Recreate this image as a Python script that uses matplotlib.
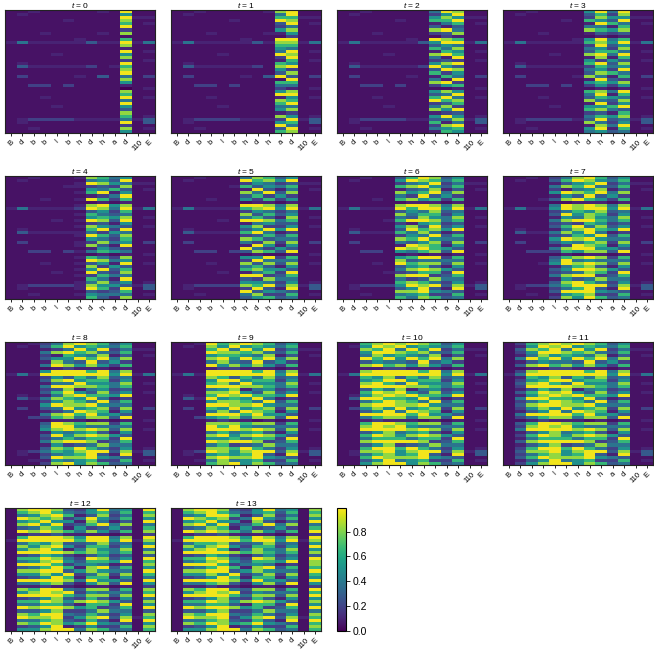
import numpy as np
import matplotlib
matplotlib.use("Agg")
import matplotlib.pyplot as plt

plt.rcParams['font.family'] = ['Liberation Sans', 'DejaVu Sans']
plt.rcParams['mathtext.fontset'] = 'custom'
plt.rcParams['mathtext.it'] = 'Liberation Sans:italic'
plt.rcParams['mathtext.rm'] = 'Liberation Sans'

tokens = ["B", "d", "b", "b", "l", "b", "h", "d", "h", "a", "d", "110", "E"]
timesteps = list(range(14))
# digit code -> value
levels = [0.0, 0.05, 0.1, 0.19, 0.28, 0.38, 0.5, 0.66, 0.83, 0.97]

t0 = ["1121111121911", "1211111111611", "1111111111922", "1111121111811", "1111111111712",
      "1111111111911", "1111111111311", "1112111121811", "1111111111111", "1111112111711",
      "2522222422925", "1111111111811", "1111111111211", "1111111111912", "1111211111611",
      "1111111111811", "1111111111312", "1211111111911", "1422222312711", "1111111111811",
      "1111111111911", "1311112141513", "1111111111811", "1111111111611", "1133131111211",
      "1111111111012", "1111111111811", "1111111111711", "1112111111912", "1111111111511",
      "1111111111911", "1111211111611", "1111111111411", "1111111111811", "1111111111712",
      "1233332222524", "1211111111914", "1111111111311", "1121111111812", "1111111111611"]
t1 = ["1121111128911", "1211111115911", "1111111117722", "1111121119811", "1111111114912",
      "1111111113511", "1111111116811", "1112111122611", "1111111111311", "1111112119911",
      "2522222428825", "1111111117711", "1111111116511", "1111111115912", "1111211119811",
      "1111111113911", "1111111112712", "1211111117611", "1422222318911", "1111111116311",
      "1111111114811", "1311112149413", "1111111111911", "1111111117711", "1133131115511",
      "1111111113212", "1111111116811", "1111111119911", "1112111112612", "1111111118711",
      "1111111117911", "1111211115511", "1111111116811", "1111111112311", "1111111118612",
      "1233332223924", "1211111116714", "1111111119511", "1121111114912", "1111111117811"]
t2 = ["1121111159811", "1211111136911", "1111111168622", "1111121177911", "1111111125712",
      "1111111142411", "1111111189511", "1112111134811", "1111111113211", "1111112198711",
      "2522222469925", "1111111146511", "1111111175811", "1111111127612", "1111211189711",
      "1111111152911", "1111111134312", "1211111168911", "1422222396411", "1111111149811",
      "1111111173611", "1311112127513", "1111111152911", "1111111189311", "1133131136711",
      "1111111111212", "1111111168611", "1111111145911", "1112111179512", "1111111197811",
      "1111111134711", "1111211158311", "1111111186911", "1111111123411", "1111111169612",
      "1233332245824", "1211111172514", "1111111138911", "1121111156712", "1111111127611"]
t3 = ["1121111695911", "1211111473811", "1111111386622", "1111121764911", "1111111297512",
      "1111111552711", "1111111876811", "1112111243411", "1111111121211", "1111112695711",
      "2522222786925", "1111111394611", "1111111563811", "1111111477512", "1111211895911",
      "1111111282711", "1111111636412", "1211111794811", "1422222375611", "1111111563911",
      "1111111487511", "1311112852713", "1111111294311", "1111111676811", "1133131363611",
      "1111111121212", "1111111785911", "1111111592711", "1112111476512", "1111111854811",
      "1111111293611", "1111211667911", "1111111785411", "1111111342711", "1111111576812",
      "1233332494524", "1211111853614", "1111111285911", "1121111692712", "1111111564511"]
t4 = ["1121112875611", "1211111564911", "1111112986522", "1111122343811", "1111111657412",
      "1111112792611", "1111111235911", "1112112973711", "1111111121211", "1111112896811",
      "2522223985925", "1111111463711", "1111112754511", "1111111676812", "1111212984911",
      "1111111342611", "1111112865412", "1211111793911", "1422222536511", "1111112974811",
      "1111111653711", "1311112385613", "1111112842911", "1111111264311", "1133132576511",
      "1111111121212", "1111112753811", "1111111985611", "1112112462912", "1111111836411",
      "1111112694711", "1111211943811", "1111112375511", "1111111752911", "1111112584612",
      "1233332866424", "1211112973914", "1111111434711", "1121112655512", "1111111742811"]
t5 = ["1121115874611", "1211119786911", "1111113653422", "1111127465711", "1111112942512",
      "1111118594811", "1111114736311", "1112116373611", "1111111221211", "1111119985811",
      "2522227896925", "1111113653511", "1111118474611", "1111115742812", "1111219985711",
      "1111112564411", "1111116833612", "1211114696911", "1422227952311", "1111113474711",
      "1111118745511", "1311115383813", "1111112962611", "1111119536411", "1133134874911",
      "1111111211212", "1111116693711", "1111113955511", "1112118484812", "1111115742611",
      "1111117866411", "1111212573911", "1111119934711", "1111114385511", "1111116653612",
      "1233338794824", "1211113942914", "1111119465411", "1121115833712", "1111114674511"]
t6 = ["1121147984611", "1211169875711", "1111135693522", "1111178964711", "1111124582412",
      "1111186795811", "1111153946311", "1112178673711", "1111112221211", "1111189985811",
      "2522297996925", "1111146584511", "1111185773611", "1111154865812", "1111279985711",
      "1111132673411", "1111168494612", "1211149786911", "1422275852311", "1111136594711",
      "1111187965511", "1311154683813", "1111129872611", "1111198976411", "1133165784911",
      "1111112121212", "1111167993711", "1111184555511", "1112197884812", "1111146742611",
      "1111158986411", "1111234773911", "1111189934711", "1111153485511", "1111178753612",
      "1233369894824", "1211146942914", "1111188965411", "1121156733712", "1111175874511"]
t7 = ["1121358974611", "1211479865711", "1111246793522", "1111587954711", "1111325682412",
      "1111698795811", "1111264946311", "1112489763711", "1111112221211", "1111598985811",
      "2522698996925", "1111357684511", "1111496873611", "1111265865812", "1111589975711",
      "1111343763411", "1111479584612", "1211258976911", "1422586952311", "1111347694711",
      "1111698965511", "1311465783813", "1111239872611", "1111589966411", "1133376884911",
      "1111121221212", "1111478983711", "1111595655511", "1112698984812", "1111257842611",
      "1111469986411", "1111345873911", "1111589934711", "1111264585511", "1111489753612",
      "1233579994824", "1211357942914", "1111499965411", "1121267833712", "1111386974511"]
t8 = ["1123589874611", "1214796765711", "1112359693522", "1115897854711", "1113276582412",
      "1114669795811", "1112854946311", "1115986863711", "1111232221211", "1116999795811",
      "2529999996925", "1113647584511", "1114896773611", "1112559665812", "1115998875711",
      "1113482563411", "1114796484612", "1212589776911", "1425876952311", "1113687594711",
      "1116988965511", "1314596783813", "1112359872611", "1115897966411", "1133785884911",
      "1111222121212", "1114987883711", "1115996555511", "1116898984812", "1112656742611",
      "1114968986411", "1113575773911", "1115899834711", "1112634585511", "1114879753612",
      "1235768994824", "1213567942914", "1114988965411", "1122656733712", "1113896874511"]
t9 = ["1129789874611", "1218696765711", "1117959693522", "1119887854711", "1116776582412",
      "1118969795811", "1115854946311", "1119686863711", "1112332221211", "1119999795811",
      "2529999996925", "1118747584511", "1116996773611", "1117859665812", "1119998875711",
      "1115682563411", "1118896484612", "1217989776911", "1429676952311", "1116887594711",
      "1119988965511", "1317696783813", "1115859872611", "1119997966411", "1136785884911",
      "1112322121212", "1118887883711", "1119796555511", "1119998984812", "1115756742611",
      "1118968986411", "1116675773911", "1119899834711", "1115734585511", "1118879753612",
      "1239868994824", "1216767942914", "1118988965411", "1125856733712", "1117896874511"]
t10 = ["1178989874611", "1269896765711", "1187959693522", "1169987854711", "1158676582412",
       "1197969795811", "1146554946311", "1189786863711", "1122332221211", "1189999795811",
       "2599999996925", "1176847584511", "1167996773611", "1189759665812", "1199998875711",
       "1147582563411", "1179896484612", "1268989776911", "1499776952311", "1157987594711",
       "1189988965511", "1368696783813", "1146959872611", "1199997966411", "1157885884911",
       "1123222121212", "1179987883711", "1189896555511", "1199998984812", "1146856742611",
       "1179868986411", "1157775773911", "1189999834711", "1146834585511", "1179979753612",
       "1288968994824", "1257867942914", "1179888965411", "1146956733712", "1168996874511"]
t11 = ["1378989874611", "1269896765711", "1487959693522", "1369987854711", "1258676582412",
       "1597969795811", "1246554946311", "1489786863711", "1122332221211", "1389999795811",
       "2599999996925", "1276847584511", "1367996773611", "1489759665812", "1399998875711",
       "1247582563411", "1479896484612", "1268989776911", "1599776952311", "1357987594711",
       "1489988965511", "1368696783813", "1246959872611", "1599997966411", "1357885884911",
       "1123222121212", "1479987883711", "1389896555511", "1599998984812", "1246856742611",
       "1379868986411", "1257775773911", "1489999834711", "1246834585511", "1379979753612",
       "1488968994824", "1357867942914", "1479888965411", "1246956733712", "1368996874511"]
t12 = ["1899843695619", "1789754674717", "1568972483518", "1987835964716", "1679662852419",
       "1896934795815", "1458726346317", "1989875863718", "1233422221213", "1799986995819",
       "2999997996928", "1576844584516", "1868963773619", "1689725865815", "1999987875718",
       "1347632463414", "1779853984619", "1568964776917", "1999735652318", "1457972894716",
       "1889946865519", "1668693583817", "1346972772615", "1999985966419", "1557842684916",
       "1223221221213", "1879954883718", "1689893655517", "1999975884819", "1346843742615",
       "1779868986418", "1557742773916", "1989986734719", "1446833585514", "1879954753618",
       "1988936894827", "1557843742919", "1879867965416", "1346923633718", "1668995874517"]
t13 = ["1899843695618", "1789754674717", "1569972483518", "1987835964716", "1679662842419",
       "1896934795815", "1458726346317", "1989875863719", "1233422221213", "1799986985819",
       "2999997996928", "1577844584516", "1868963773619", "1689725865816", "1999987875718",
       "1347632463514", "1779853984619", "1568964776918", "1999735652318", "1457972894717",
       "1889946865519", "1668693583817", "1346972772616", "1999985966419", "1557842684916",
       "1223221221213", "1879954883719", "1689893655517", "1999975884819", "1346843742616",
       "1779868986418", "1557742773916", "1989986734719", "1446833585515", "1879954753618",
       "1988936894827", "1557843742919", "1879867965417", "1346923633718", "1668995874517"]

panels = [t0, t1, t2, t3, t4, t5, t6, t7, t8, t9, t10, t11, t12, t13]


def decode(rows):
    return np.array([[levels[int(ch)] for ch in r] for r in rows])


W, H = 654, 654
fig = plt.figure(figsize=(6.54, 6.54), dpi=100)

lefts = [5, 171, 337, 503]
tops = [10, 176, 342, 508]
pw, ph = 150, 123

im = None
for k, (t, rows) in enumerate(zip(timesteps, panels)):
    r, c = divmod(k, 4)
    ax = fig.add_axes([lefts[c] / W, 1 - (tops[r] + ph) / H, pw / W, ph / H])
    data = decode(rows)
    im = ax.imshow(data, cmap='viridis', vmin=0.0, vmax=0.99, aspect='auto',
                   interpolation='nearest')
    ax.set_xticks(range(len(tokens)))
    ax.set_xticklabels(tokens, rotation=45, fontsize=5.5)
    ax.set_yticks([])
    ax.tick_params(axis='x', length=2.5, width=0.6, pad=1.5)
    for s in ax.spines.values():
        s.set_linewidth(0.8)
        s.set_color('#222222')
    ax.set_title(r'$t$ = %d' % t, fontsize=6, pad=0.8)

cax = fig.add_axes([337 / W, 1 - (508 + ph) / H, 9 / W, ph / H])
cb = fig.colorbar(im, cax=cax)
cb.set_ticks([0.0, 0.2, 0.4, 0.6, 0.8])
cb.ax.tick_params(labelsize=7.5, length=3, width=0.6, pad=1.5)
cb.outline.set_linewidth(0.8)

fig.savefig('out.png', dpi=100)
